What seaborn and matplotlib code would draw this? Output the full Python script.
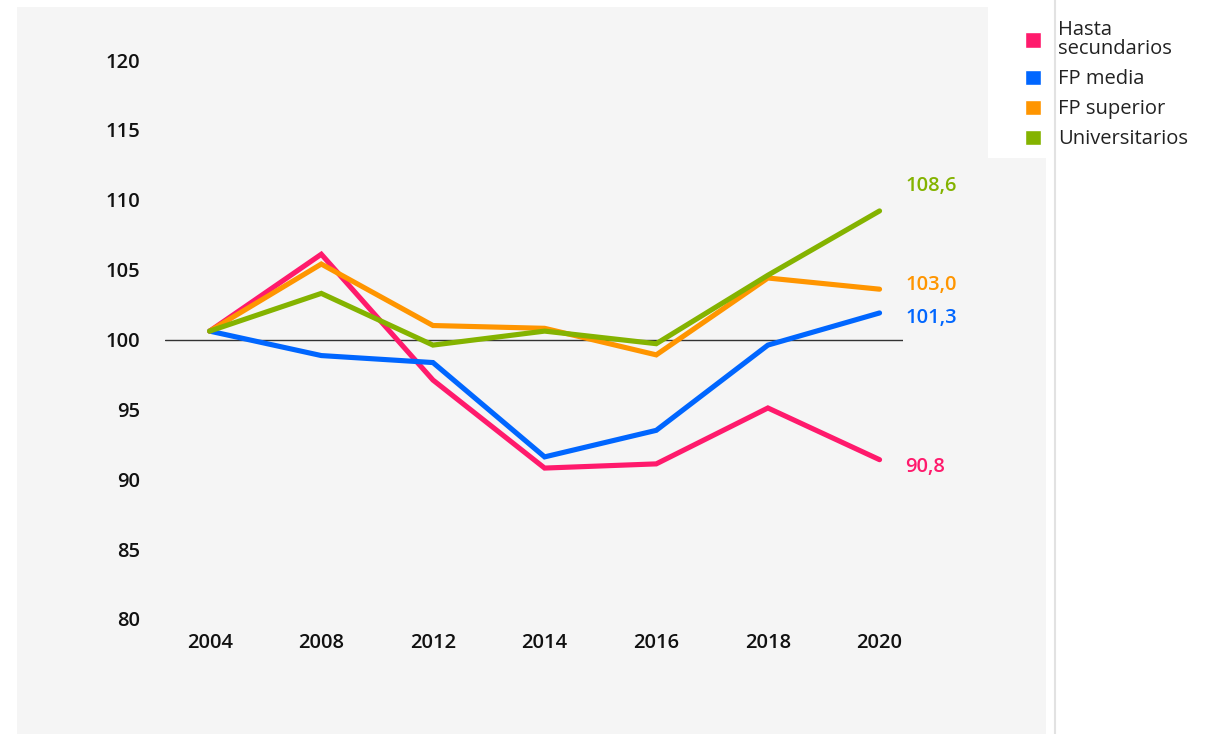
import matplotlib
matplotlib.use("Agg")
import matplotlib.pyplot as plt
import seaborn as sns
import pandas as pd
from matplotlib.patches import Rectangle
from matplotlib.lines import Line2D

years = ["2004", "2008", "2012", "2014", "2016", "2018", "2020"]
hasta_secundarios = [100.6, 106.1, 97.1, 90.8, 91.1, 95.1, 91.4]
fp_media = [100.6, 98.85, 98.35, 91.6, 93.5, 99.6, 101.9]
fp_superior = [100.6, 105.4, 101.0, 100.8, 98.9, 104.4, 103.6]
universitarios = [100.6, 103.3, 99.6, 100.6, 99.7, 104.6, 109.2]

series_names = ["Hasta\nsecundarios", "FP media", "FP superior", "Universitarios"]
series_values = [hasta_secundarios, fp_media, fp_superior, universitarios]
colors = ["#ff1a6c", "#0066ff", "#ff9500", "#84b300"]
end_labels = ["90,8", "101,3", "103,0", "108,6"]
end_label_y = [90.85, 101.55, 103.9, 111.0]
y_ticks = [80, 85, 90, 95, 100, 105, 110, 115, 120]

rows = []
for name, vals in zip(series_names, series_values):
    for i, (yr, v) in enumerate(zip(years, vals)):
        rows.append({"idx": i, "year": yr, "value": v, "serie": name})
df = pd.DataFrame(rows)

sns.set_theme(style="white")
plt.rcParams["font.family"] = ["Open Sans", "DejaVu Sans"]

W, H = 1206, 734
fig = plt.figure(figsize=(W / 100, H / 100), dpi=100)
fig.patch.set_facecolor("white")
# gray panel
fig.patches.append(Rectangle((17 / W, 0), (1046 - 17) / W, (734 - 7) / H,
                             transform=fig.transFigure, facecolor="#f5f5f5",
                             edgecolor="none", zorder=-10))
# white legend box
fig.patches.append(Rectangle((988 / W, 1 - 158 / H), (1046 - 988) / W, (158 - 7) / H,
                             transform=fig.transFigure, facecolor="white",
                             edgecolor="none", zorder=-9))
fig.lines.append(Line2D([1055 / W, 1055 / W], [0, 1], transform=fig.transFigure,
                        color="#e2e2e2", lw=1.5))

left, right = 165 / W, 903 / W
bottom_px, top_px = 619, 45
ax = fig.add_axes([left, 1 - bottom_px / H, right - left, (bottom_px - top_px) / H])
ax.patch.set_alpha(0)

sns.lineplot(data=df, x="idx", y="value", hue="serie", palette=colors,
             hue_order=series_names, lw=3.7, ax=ax, legend=False,
             solid_joinstyle="miter")

ax.axhline(100, color="#333333", lw=1, zorder=0)

ax.set_xlim(-0.4, 6.21)
ax.set_ylim(80, 80 + 40 * (bottom_px - top_px) / 559)
ax.set_xticks(range(len(years)))
ax.set_xticklabels(years)
ax.set_yticks(y_ticks)
ax.tick_params(axis="both", length=0, labelsize=14.5, colors="#111111")
ax.tick_params(axis="y", pad=18)
ax.tick_params(axis="x", pad=10)
for lbl in ax.get_xticklabels() + ax.get_yticklabels():
    lbl.set_fontweight("semibold")
ax.set_xlabel("")
ax.set_ylabel("")
for s in ax.spines.values():
    s.set_visible(False)

for lab, yv, c in zip(end_labels, end_label_y, colors):
    ax.text(6.23, yv, lab, color=c, fontsize=14.5, fontweight="semibold",
            va="center", ha="left", clip_on=False)

handles = [Rectangle((0, 0), 1, 1, facecolor=c) for c in colors]
leg = fig.legend(handles, series_names, loc="upper left",
                 bbox_to_anchor=(1025 / W, 1 - 20 / H), frameon=False,
                 fontsize=14.5, handlelength=0.8, handleheight=0.8,
                 handletextpad=0.85, labelspacing=0.5, borderpad=0,
                 borderaxespad=0)
for t in leg.get_texts():
    t.set_color("#222222")
    t.set_linespacing(0.95)

fig.savefig("out.png", dpi=100, facecolor="white")
